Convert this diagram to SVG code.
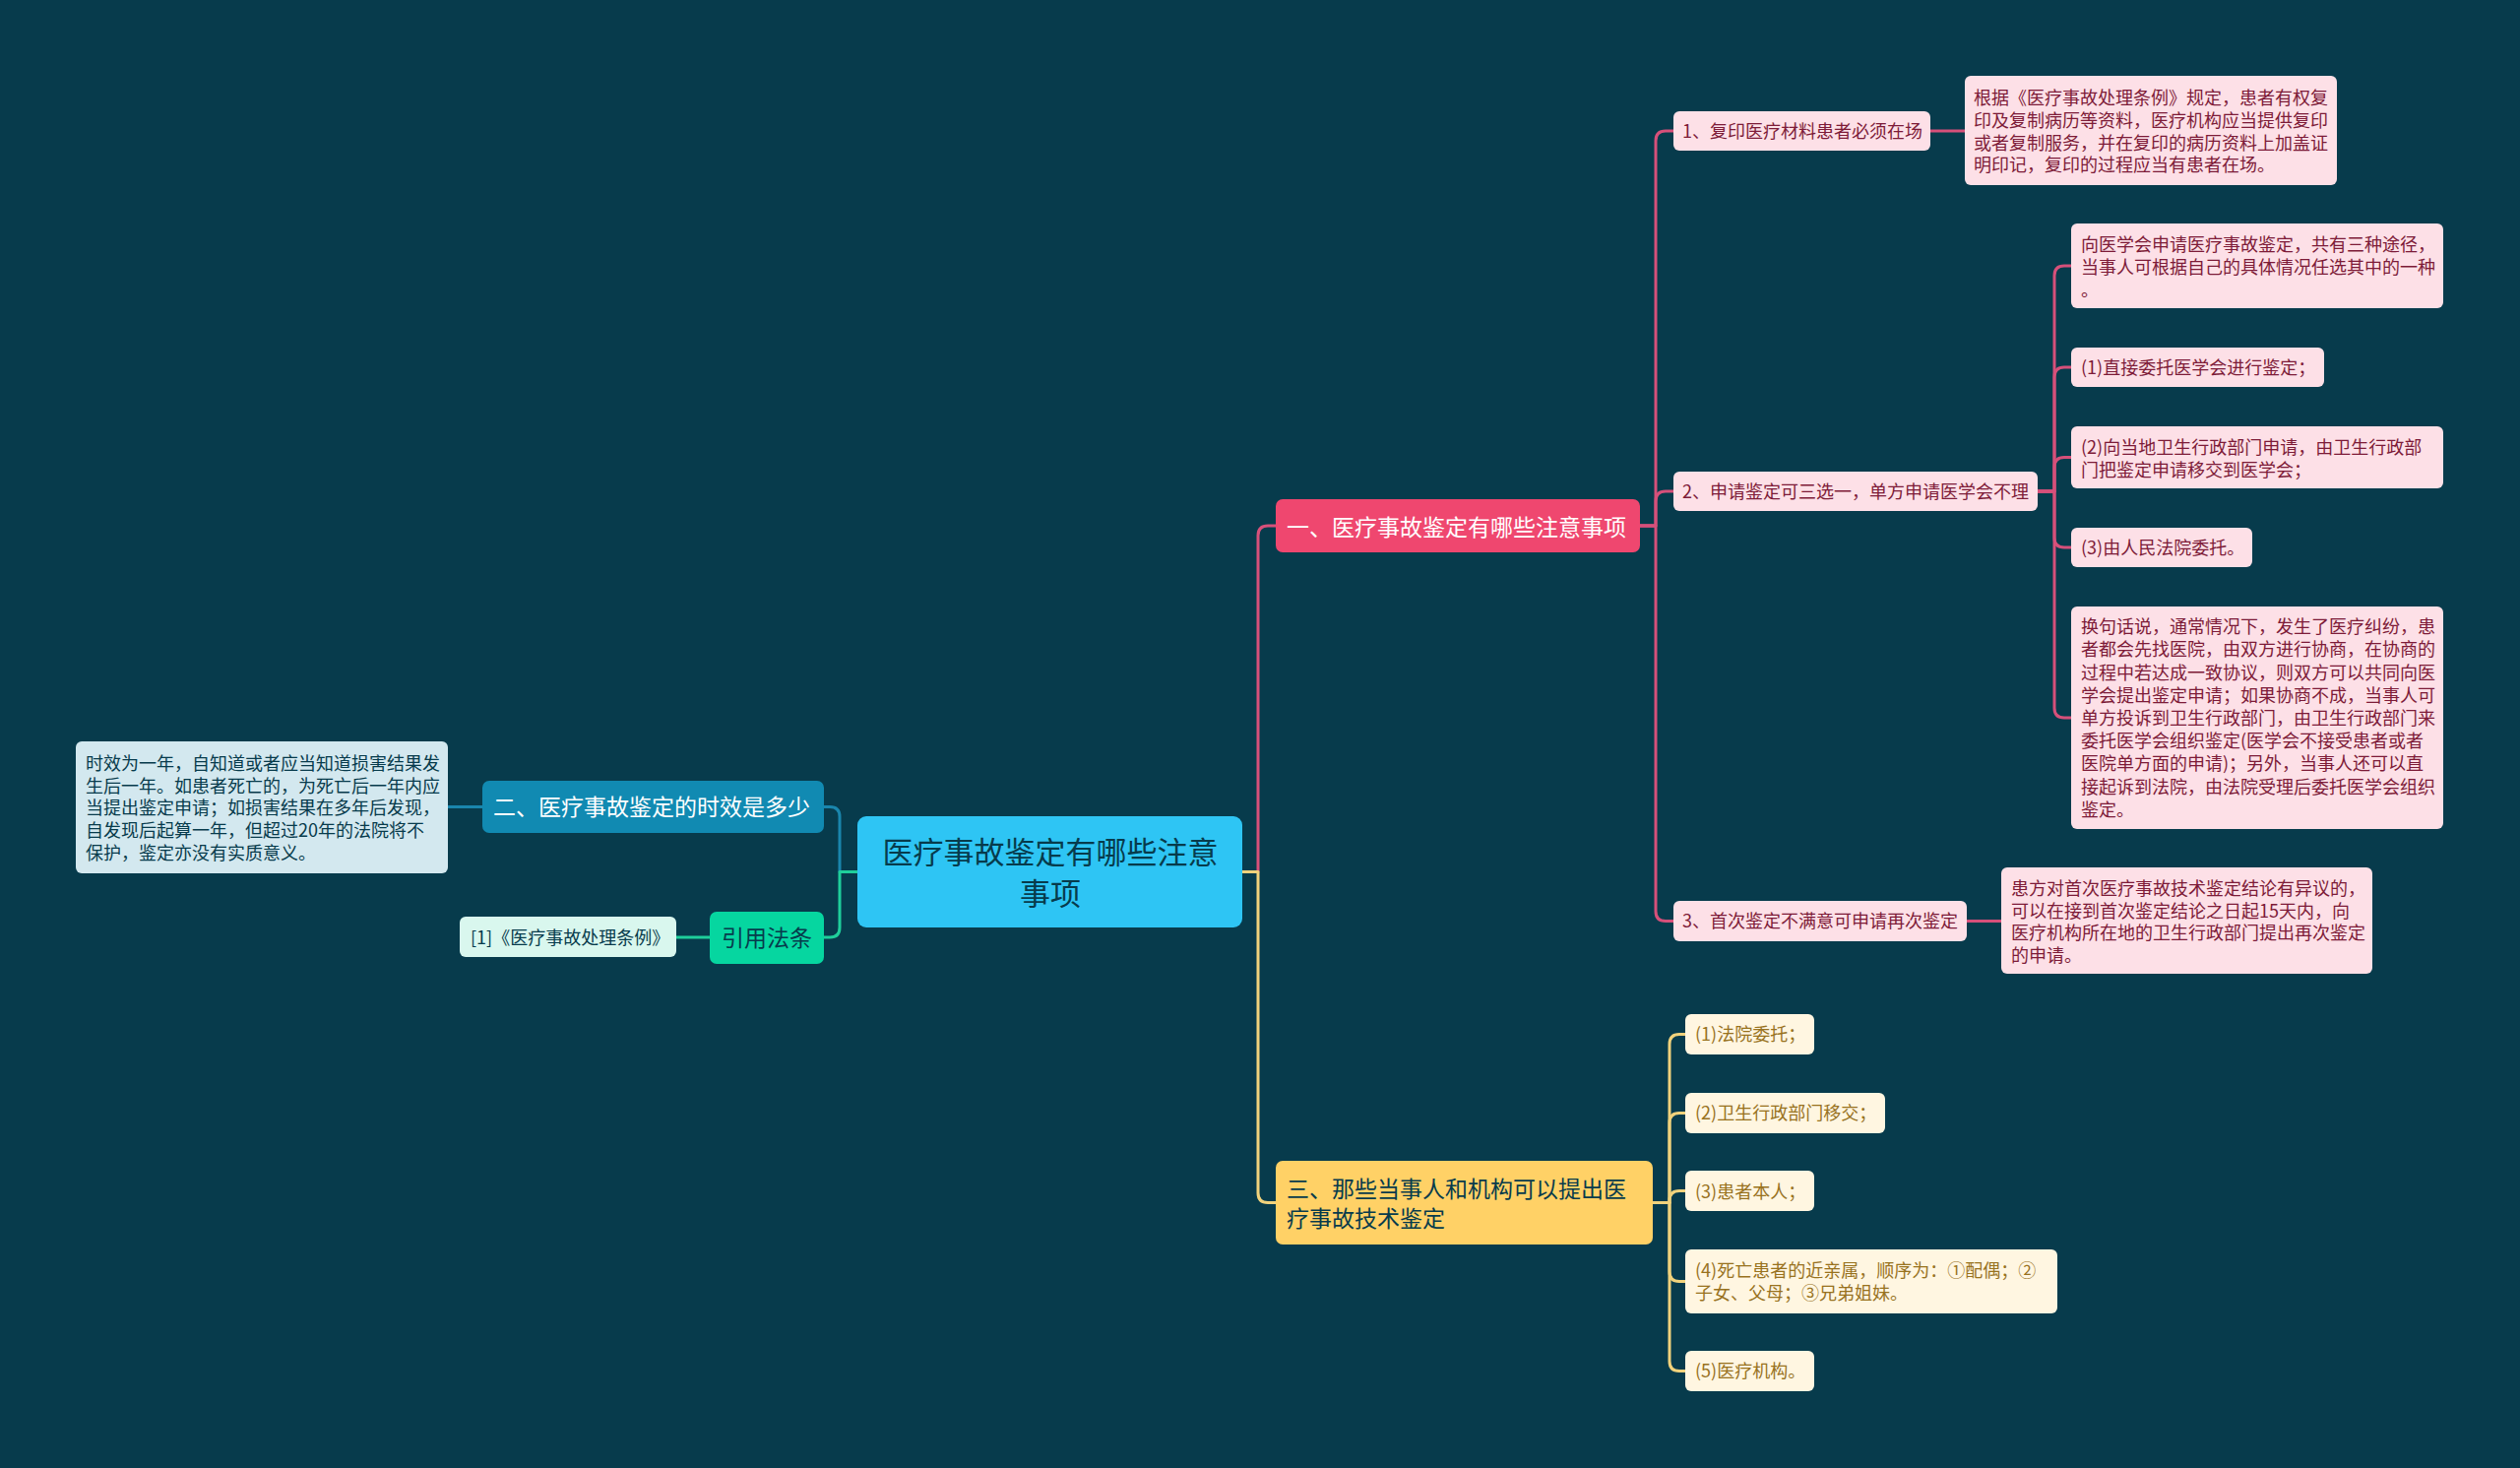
<svg xmlns="http://www.w3.org/2000/svg" width="2560" height="1491" viewBox="0 0 2560 1491">
<style>
text{font-family:"Noto Sans CJK SC","Noto Sans",sans-serif;}
.s{font-size:18px;}
.m{font-size:23px;}
.r{font-size:31px;fill:#073b4c;text-anchor:middle;}
.pk{fill:#fde0e7;}
.pkt{fill:#7d1b38;}
.yl{fill:#fff6e1;}
.ylt{fill:#98721e;}
.bl{fill:#d3e8ef;}
.gr{fill:#d9f7ee;}
.dk{fill:#073b4c;}
.wt{fill:#ffffff;}
.c{fill:none;stroke-width:3;stroke-linecap:round;stroke-linejoin:round;}
.cp{stroke:#d6507a;}
.cy{stroke:#f0d27c;}
.cb{stroke:#1a86ad;}
.cg{stroke:#1fcf9b;}
</style>
<rect x="0" y="0" width="2560" height="1491" fill="#073b4c"/>
<g id="connectors">
  <path class="c cp" d="M1262,885.5 H1278 V544 Q1278,534 1288,534 H1296"/>
  <path class="c cy" d="M1262,885.5 H1278 V1211.5 Q1278,1221.5 1288,1221.5 H1296"/>
  <path class="c cb" d="M871,885.5 H853 V829.5 Q853,819.5 843,819.5 H837"/>
  <path class="c cg" d="M871,885.5 H853 V942 Q853,952 843,952 H837"/>
  <path class="c cb" d="M490,819.5 H455"/>
  <path class="c cg" d="M721,952 H687"/>
  <path class="c cp" d="M1666,534 H1682 V143 Q1682,133 1692,133 H1700"/>
  <path class="c cp" d="M1666,534 H1682 V509 Q1682,499 1692,499 H1700"/>
  <path class="c cp" d="M1666,534 H1682 V925.5 Q1682,935.5 1692,935.5 H1700"/>
  <path class="c cp" d="M1961,133 H1996"/>
  <path class="c cp" d="M1998,935.5 H2033"/>
  <path class="c cp" d="M2070,499 H2087 V280 Q2087,270 2097,270 H2104"/>
  <path class="c cp" d="M2070,499 H2087 V383 Q2087,373 2097,373 H2104"/>
  <path class="c cp" d="M2070,499 H2087 V474.5 Q2087,464.5 2097,464.5 H2104"/>
  <path class="c cp" d="M2070,499 H2087 V546 Q2087,556 2097,556 H2104"/>
  <path class="c cp" d="M2070,499 H2087 V719 Q2087,729 2097,729 H2104"/>
  <path class="c cy" d="M1679,1221.5 H1696 V1060.5 Q1696,1050.5 1706,1050.5 H1712"/>
  <path class="c cy" d="M1679,1221.5 H1696 V1140.5 Q1696,1130.5 1706,1130.5 H1712"/>
  <path class="c cy" d="M1679,1221.5 H1696 V1219.5 Q1696,1209.5 1706,1209.5 H1712"/>
  <path class="c cy" d="M1679,1221.5 H1696 V1291.5 Q1696,1301.5 1706,1301.5 H1712"/>
  <path class="c cy" d="M1679,1221.5 H1696 V1382.5 Q1696,1392.5 1706,1392.5 H1712"/>
</g>
<g id="root">
  <rect x="871" y="829" width="391" height="113" rx="9" fill="#2ec5f4"/>
  <text class="r"><tspan x="1067" y="877">医疗事故鉴定有哪些注意</tspan><tspan x="1067" y="918.5">事项</tspan></text>
</g>
<g id="n1">
  <rect x="1296" y="507" width="370" height="54" rx="7" fill="#ef476f"/>
  <text class="m wt" x="1307" y="543.7">一、医疗事故鉴定有哪些注意事项</text>
</g>
<g id="n2">
  <rect x="490" y="793" width="347" height="53" rx="7" fill="#118ab2"/>
  <text class="m wt" x="501" y="828">二、医疗事故鉴定的时效是多少</text>
</g>
<g id="n3">
  <rect x="721" y="926" width="116" height="53" rx="7" fill="#06d6a0"/>
  <text class="m dk" x="779" y="960.7" text-anchor="middle">引用法条</text>
</g>
<g id="n4">
  <rect x="1296" y="1179" width="383" height="85" rx="7" fill="#ffd166"/>
  <text class="m dk"><tspan x="1307" y="1215.7">三、那些当事人和机构可以提出医</tspan><tspan x="1307" y="1245.7">疗事故技术鉴定</tspan></text>
</g>
<g id="n1-1">
  <rect class="pk" x="1700" y="113" width="261" height="40" rx="6"/>
  <text class="s pkt" x="1709" y="139.8">1、复印医疗材料患者必须在场</text>
</g>
<g id="n1-1-1">
  <rect class="pk" x="1996" y="77" width="378" height="111" rx="6"/>
  <text class="s pkt"><tspan x="2005" y="106.3">根据《医疗事故处理条例》规定，患者有权复</tspan><tspan x="2005" y="129">印及复制病历等资料，医疗机构应当提供复印</tspan><tspan x="2005" y="151.7">或者复制服务，并在复印的病历资料上加盖证</tspan><tspan x="2005" y="174.4">明印记，复印的过程应当有患者在场。</tspan></text>
</g>
<g id="n1-2">
  <rect class="pk" x="1700" y="479" width="370" height="40" rx="6"/>
  <text class="s pkt" x="1709" y="505.8">2、申请鉴定可三选一，单方申请医学会不理</text>
</g>
<g id="n1-2-1">
  <rect class="pk" x="2104" y="227" width="378" height="86" rx="6"/>
  <text class="s pkt"><tspan x="2114" y="255">向医学会申请医疗事故鉴定，共有三种途径，</tspan><tspan x="2114" y="277.8">当事人可根据自己的具体情况任选其中的一种</tspan><tspan x="2114" y="300.5">。</tspan></text>
</g>
<g id="n1-2-2">
  <rect class="pk" x="2104" y="353" width="257" height="40" rx="6"/>
  <text class="s pkt" x="2114" y="379.8">(1)直接委托医学会进行鉴定；</text>
</g>
<g id="n1-2-3">
  <rect class="pk" x="2104" y="433" width="378" height="63" rx="6"/>
  <text class="s pkt"><tspan x="2114" y="461">(2)向当地卫生行政部门申请，由卫生行政部</tspan><tspan x="2114" y="483.5">门把鉴定申请移交到医学会；</tspan></text>
</g>
<g id="n1-2-4">
  <rect class="pk" x="2104" y="536" width="184" height="40" rx="6"/>
  <text class="s pkt" x="2114" y="562.8">(3)由人民法院委托。</text>
</g>
<g id="n1-2-5">
  <rect class="pk" x="2104" y="616" width="378" height="226" rx="6"/>
  <text class="s pkt"><tspan x="2114" y="643.2">换句话说，通常情况下，发生了医疗纠纷，患</tspan><tspan x="2114" y="666.4">者都会先找医院，由双方进行协商，在协商的</tspan><tspan x="2114" y="689.6">过程中若达成一致协议，则双方可以共同向医</tspan><tspan x="2114" y="712.8">学会提出鉴定申请；如果协商不成，当事人可</tspan><tspan x="2114" y="736">单方投诉到卫生行政部门，由卫生行政部门来</tspan><tspan x="2114" y="759.2">委托医学会组织鉴定(医学会不接受患者或者</tspan><tspan x="2114" y="782.4">医院单方面的申请)；另外，当事人还可以直</tspan><tspan x="2114" y="805.6">接起诉到法院，由法院受理后委托医学会组织</tspan><tspan x="2114" y="828.8">鉴定。</tspan></text>
</g>
<g id="n1-3">
  <rect class="pk" x="1700" y="915" width="298" height="41" rx="6"/>
  <text class="s pkt" x="1709" y="942.3">3、首次鉴定不满意可申请再次鉴定</text>
</g>
<g id="n1-3-1">
  <rect class="pk" x="2033" y="881" width="377" height="108" rx="6"/>
  <text class="s pkt"><tspan x="2043" y="909.3">患方对首次医疗事故技术鉴定结论有异议的，</tspan><tspan x="2043" y="931.8">可以在接到首次鉴定结论之日起15天内，向</tspan><tspan x="2043" y="954.3">医疗机构所在地的卫生行政部门提出再次鉴定</tspan><tspan x="2043" y="976.8">的申请。</tspan></text>
</g>
<g id="n2-1">
  <rect class="bl" x="77" y="753" width="378" height="134" rx="6"/>
  <text class="s dk"><tspan x="87" y="781.8">时效为一年，自知道或者应当知道损害结果发</tspan><tspan x="87" y="804.6">生后一年。如患者死亡的，为死亡后一年内应</tspan><tspan x="87" y="827.3">当提出鉴定申请；如损害结果在多年后发现，</tspan><tspan x="87" y="850">自发现后起算一年，但超过20年的法院将不</tspan><tspan x="87" y="872.8">保护，鉴定亦没有实质意义。</tspan></text>
</g>
<g id="n3-1">
  <rect class="gr" x="467" y="931" width="220" height="41" rx="6"/>
  <text class="s dk" x="478" y="958.8">[1]《医疗事故处理条例》</text>
</g>
<g id="n4-1">
  <rect class="yl" x="1712" y="1030" width="131" height="41" rx="6"/>
  <text class="s ylt" x="1722" y="1057.3">(1)法院委托；</text>
</g>
<g id="n4-2">
  <rect class="yl" x="1712" y="1110" width="203" height="41" rx="6"/>
  <text class="s ylt" x="1722" y="1137.3">(2)卫生行政部门移交；</text>
</g>
<g id="n4-3">
  <rect class="yl" x="1712" y="1189" width="131" height="41" rx="6"/>
  <text class="s ylt" x="1722" y="1216.8">(3)患者本人；</text>
</g>
<g id="n4-4">
  <rect class="yl" x="1712" y="1269" width="378" height="65" rx="6"/>
  <text class="s ylt"><tspan x="1722" y="1296.8">(4)死亡患者的近亲属，顺序为：①配偶；②</tspan><tspan x="1722" y="1319.8">子女、父母；③兄弟姐妹。</tspan></text>
</g>
<g id="n4-5">
  <rect class="yl" x="1712" y="1372" width="131" height="41" rx="6"/>
  <text class="s ylt" x="1722" y="1399.3">(5)医疗机构。</text>
</g>
</svg>
